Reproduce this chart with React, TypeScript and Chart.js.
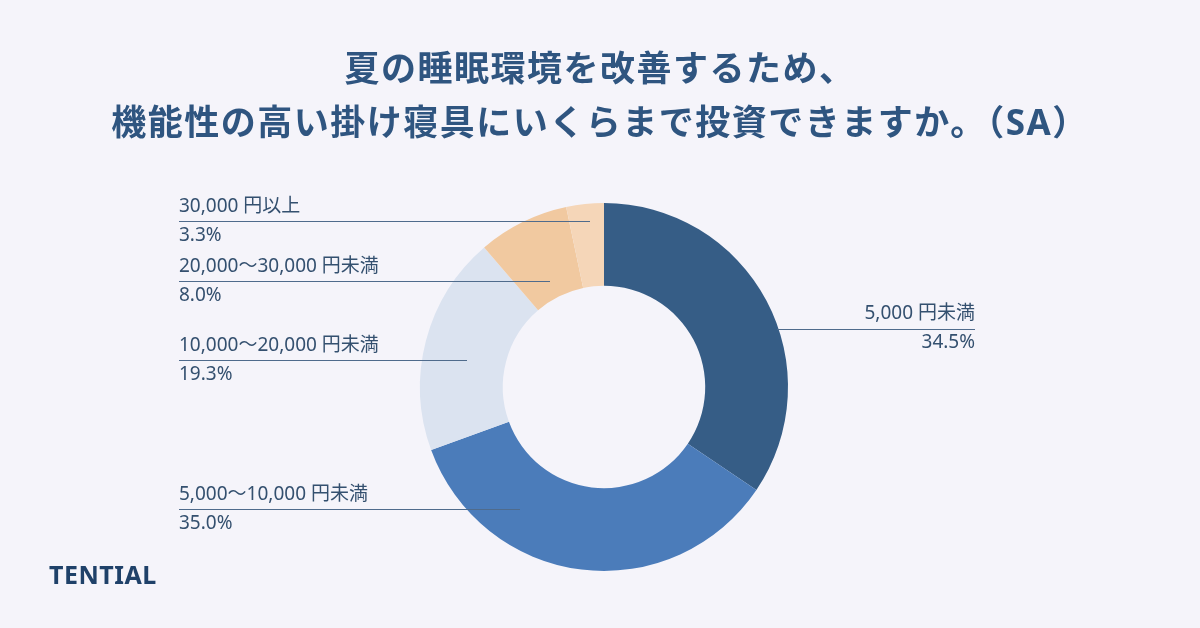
import React, { useEffect, useRef } from "react";
import { Chart, registerables } from "chart.js";

Chart.register(...registerables);

const categories = ["5,000 円未満", "5,000〜10,000 円未満", "10,000〜20,000 円未満", "20,000〜30,000 円未満", "30,000 円以上"];
const shares = [34.5, 35.0, 19.3, 8.0, 3.3];
const shareLabels = ["34.5%", "35.0%", "19.3%", "8.0%", "3.3%"];
const sliceColors = ["#365d86", "#4b7cba", "#dbe3f0", "#f1c9a0", "#f5d6b8"];

const titleLines = ["夏の睡眠環境を改善するため、", "機能性の高い掛け寝具にいくらまで投資できますか。（SA）"];

// leader-line layout (annotation placement only)
const labelLayout = [
  { side: "right", y: 329, x0: 777, x1: 975 },
  { side: "left", y: 509, x0: 179, x1: 520 },
  { side: "left", y: 360, x0: 179, x1: 467 },
  { side: "left", y: 281, x0: 179, x1: 550 },
  { side: "left", y: 221, x0: 179, x1: 590 },
];

const TEXT = "#34506f";
const FONT = '"Noto Sans", "Noto Sans CJK JP", sans-serif';

const leaderPlugin = {
  id: "leaders",
  afterDatasetsDraw(chart: any) {
    const ctx = chart.ctx;
    ctx.save();
    labelLayout.forEach((l, i) => {
      ctx.strokeStyle = "#4f6b8c";
      ctx.lineWidth = 1;
      ctx.beginPath();
      ctx.moveTo(l.x0, l.y + 0.5);
      ctx.lineTo(l.x1, l.y + 0.5);
      ctx.stroke();
      ctx.fillStyle = TEXT;
      ctx.font = `19px ${FONT}`;
      ctx.textBaseline = "alphabetic";
      if (l.side === "left") {
        ctx.textAlign = "left";
        ctx.fillText(categories[i], l.x0, l.y - 9);
        ctx.fillText(shareLabels[i], l.x0, l.y + 20);
      } else {
        ctx.textAlign = "right";
        ctx.fillText(categories[i], l.x1, l.y - 10);
        ctx.fillText(shareLabels[i], l.x1, l.y + 19);
      }
    });
    ctx.restore();
  },
};

export default function App() {
  const ref = useRef<HTMLCanvasElement>(null);
  useEffect(() => {
    document.body.style.margin = "0";
    const chart = new Chart(ref.current!, {
      type: "doughnut",
      data: {
        labels: categories,
        datasets: [
          {
            data: shares,
            backgroundColor: sliceColors,
            borderWidth: 0,
          },
        ],
      },
      options: {
        responsive: false,
        animation: false,
        cutout: "55%",
        layout: { padding: { top: 203, bottom: 57, left: 420, right: 412 } },
        plugins: {
          legend: { display: false },
          tooltip: { enabled: false },
          title: { display: false },
        },
      },
      plugins: [leaderPlugin],
    });
    return () => chart.destroy();
  }, []);

  return (
    <div
      style={{
        position: "fixed",
        left: 0,
        top: 0,
        width: 1200,
        height: 628,
        background: "#f5f4fa",
        overflow: "hidden",
      }}
    >
      <canvas ref={ref} width={1200} height={628} style={{ position: "absolute", left: 0, top: 0 }} />
      <div
        style={{
          position: "absolute",
          left: 0,
          top: 41,
          width: 1200,
          textAlign: "center",
          fontFamily: FONT,
          fontWeight: 700,
          fontSize: 35,
          letterSpacing: 1.5,
          lineHeight: "54px",
          color: "#2f5580",
        }}
      >
        {titleLines.map((t, i) => (
          <div key={i}>{t}</div>
        ))}
      </div>
      <div
        style={{
          position: "absolute",
          left: 49,
          top: 558,
          fontFamily: FONT,
          fontWeight: 700,
          fontSize: 25,
          letterSpacing: 0.5,
          color: "#1f4169",
          lineHeight: "32px",
        }}
      >
        TENTIAL
      </div>
    </div>
  );
}
